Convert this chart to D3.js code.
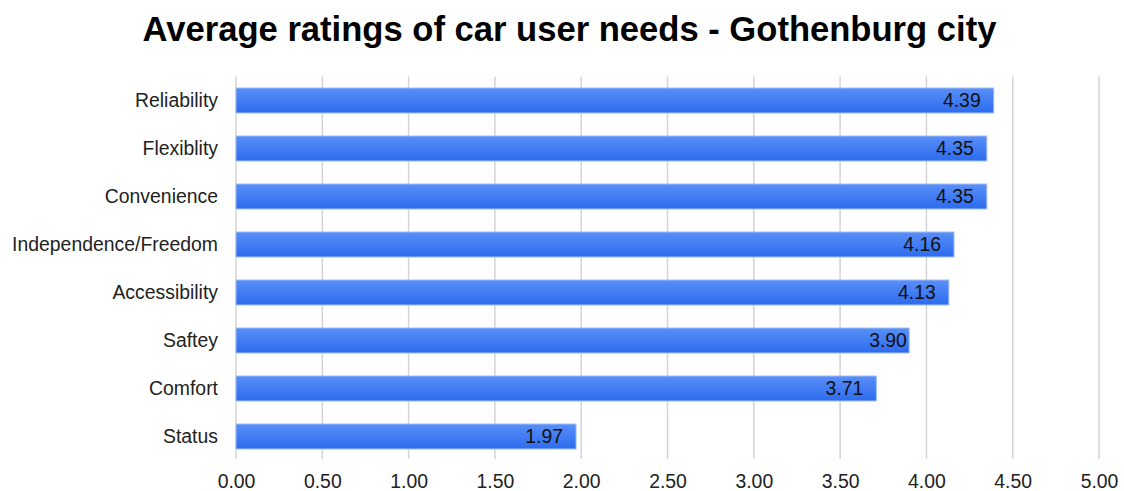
<!DOCTYPE html>
<html>
<head>
<meta charset="utf-8">
<script src="https://cdn.jsdelivr.net/npm/d3@7"></script>
<style>
  html, body { margin: 0; padding: 0; background: #fff; }
  svg { display: block; font-family: "Liberation Sans", Arial, Helvetica, sans-serif; }
</style>
</head>
<body>
<svg id="chart" width="1124" height="491"></svg>
<script>
// Average ratings of car user needs (Gothenburg city)
const categories = ["Reliability", "Flexiblity", "Convenience", "Independence/Freedom",
                    "Accessibility", "Saftey", "Comfort", "Status"];
const ratings = [4.39, 4.35, 4.35, 4.16, 4.13, 3.90, 3.71, 1.97];
const tickValues = [0, 0.5, 1, 1.5, 2, 2.5, 3, 3.5, 4, 4.5, 5];
const titleText = "Average ratings of car user needs - Gothenburg city";

const svg = d3.select("#chart");
const margin = { left: 236, right: 25, top: 76.5, bottom: 30.5 };
const W = 1124, H = 491;
const labelFont = 19.4;

const x = d3.scaleLinear().domain([0, 5]).range([margin.left, W - margin.right]);
const y = d3.scaleBand().domain(categories)
  .range([margin.top, H - margin.bottom]).paddingInner(0.48).paddingOuter(0.24);

// vertical gradient for the bars
const defs = svg.append("defs");
const grad = defs.append("linearGradient").attr("id", "barFill")
  .attr("x1", 0).attr("y1", 0).attr("x2", 0).attr("y2", 1);
grad.append("stop").attr("offset", "0%").attr("stop-color", "#5a8ff8");
grad.append("stop").attr("offset", "100%").attr("stop-color", "#2b6bee");

// title
svg.append("text")
  .attr("x", 569.5).attr("y", 41)
  .attr("text-anchor", "middle")
  .attr("font-size", 34.6).attr("font-weight", "bold").attr("fill", "#000")
  .text(titleText);

// vertical gridlines
svg.append("g").selectAll("line").data(tickValues).join("line")
  .attr("x1", d => x(d)).attr("x2", d => x(d))
  .attr("y1", margin.top).attr("y2", 459)
  .attr("stroke", "#d4d4d4").attr("stroke-width", 1.5);

// x axis labels
const xAxis = d3.axisBottom(x).tickValues(tickValues).tickFormat(d3.format(".2f")).tickSize(0).tickPadding(0);
const gx = svg.append("g").attr("transform", `translate(0, 474)`).call(xAxis);
gx.select(".domain").remove();
gx.selectAll("text").attr("font-size", labelFont).attr("fill", "#222")
  .attr("font-family", "Liberation Sans, Arial, sans-serif");

// category labels
const yAxis = d3.axisLeft(y).tickSize(0).tickPadding(0);
const gy = svg.append("g").attr("transform", `translate(218, 0)`).call(yAxis);
gy.select(".domain").remove();
gy.selectAll("text").attr("font-size", labelFont).attr("fill", "#222")
  .attr("font-family", "Liberation Sans, Arial, sans-serif");

// bars
svg.append("g").selectAll("rect").data(ratings).join("rect")
  .attr("x", x(0))
  .attr("y", (d, i) => y(categories[i]))
  .attr("width", d => x(d) - x(0))
  .attr("height", y.bandwidth())
  .attr("fill", "url(#barFill)")
  .attr("stroke", "#9dbcf6").attr("stroke-width", 1);

// value labels: placed from the width of the shortest form of the number,
// then drawn with two decimals
const probe = svg.append("text").attr("font-size", labelFont).attr("visibility", "hidden");
const shortWidth = d => probe.text(String(d)).node().getComputedTextLength();
const gap = 13;
svg.append("g").selectAll("text").data(ratings).join("text")
  .attr("x", d => x(d) - gap - shortWidth(d))
  .attr("y", (d, i) => y(categories[i]) + y.bandwidth() / 2)
  .attr("dy", "0.36em")
  .attr("text-anchor", "start")
  .attr("font-size", labelFont).attr("fill", "#111")
  .text(d => d.toFixed(2));
probe.remove();
</script>
</body>
</html>
